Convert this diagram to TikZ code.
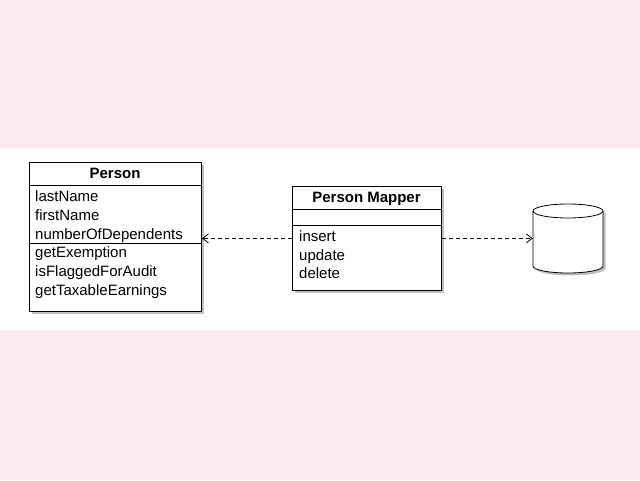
\documentclass[tikz,border=0pt]{standalone}
\usepackage{fontspec}
\setmainfont{Liberation Sans}
\usetikzlibrary{arrows.meta,shadows}
\definecolor{bgpink}{RGB}{250,234,237}
\tikzset{
  x=1pt, y=-1pt,
  umlbox/.style={draw=black, line width=0.8pt, fill=white, anchor=north west, inner sep=0pt,
    drop shadow={shadow xshift=2.5pt, shadow yshift=-2.5pt, opacity=0.5}},
  title/.style={font=\fontsize{15}{17}\selectfont\bfseries, inner sep=0pt, anchor=base},
  member/.style={font=\fontsize{15}{17}\selectfont, anchor=base west, inner sep=0pt},
  sep/.style={line width=0.8pt},
  dep/.style={dashed, line width=0.8pt, dash pattern=on 4pt off 3pt, -{Straight Barb[length=6pt,width=9pt]}}
}
\begin{document}
\begin{tikzpicture}
\useasboundingbox (0,0) rectangle (640,480);
\fill[bgpink] (0,0) rectangle (640,480);
\fill[white] (0,148) rectangle (640,330);

% Person class
\node[umlbox, minimum width=172pt, minimum height=149pt] (person) at (29,162) {};
\draw[sep] (29,185) -- (201,185);
\draw[sep] (29,243) -- (201,243);
\node[title] (ptitle) at (115,178.5) {Person};
\node[member] (p1) at (35,201) {lastName};
\node[member] (p2) at (35,220) {firstName};
\node[member] (p3) at (35,239) {numberOfDependents};
\node[member] (p4) at (35,257) {getExemption};
\node[member] (p5) at (35,276) {isFlaggedForAudit};
\node[member] (p6) at (35,295) {getTaxableEarnings};

% Person Mapper class
\node[umlbox, minimum width=149pt, minimum height=104pt] (mapper) at (292,186) {};
\draw[sep] (292,209) -- (441,209);
\draw[sep] (292,225) -- (441,225);
\node[title] (mtitle) at (366.5,202.5) {Person Mapper};
\node[member] (m1) at (299,241) {insert};
\node[member] (m2) at (299,260) {update};
\node[member] (m3) at (299,278) {delete};

% Database cylinder
\node[minimum width=70pt, minimum height=69pt, inner sep=0pt] (db) at (568,238.5) {};
\draw[line width=0.8pt, fill=white, drop shadow={shadow xshift=2.5pt, shadow yshift=-2.5pt, opacity=0.5}]
  (533,211) -- (533,266) arc[start angle=180, end angle=360, x radius=35pt, y radius=7pt]
  -- (603,211) arc[start angle=0, end angle=180, x radius=35pt, y radius=7pt] -- cycle;
\draw[line width=0.8pt] (533,211) arc[start angle=180, end angle=360, x radius=35pt, y radius=7pt];

% Connectors
\draw[dep] (mapper.west) -- (mapper.west -| person.east);
\draw[dep] (mapper.east) -- (mapper.east -| db.west);
\end{tikzpicture}
\end{document}
